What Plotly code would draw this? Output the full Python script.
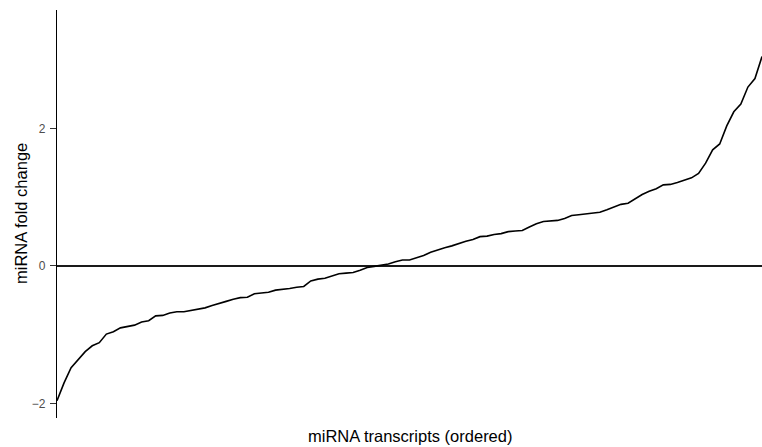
import plotly.graph_objects as go

# Fold change of each miRNA transcript, sorted from lowest to highest
fold_change = [
    -1.96, -1.70, -1.48, -1.37, -1.245, -1.16, -1.115, -0.99, -0.955, -0.90,
    -0.877, -0.86, -0.815, -0.797, -0.726, -0.719, -0.685, -0.665, -0.665, -0.647,
    -0.625, -0.609, -0.576, -0.551, -0.515, -0.483, -0.461, -0.455, -0.403, -0.393,
    -0.383, -0.352, -0.342, -0.327, -0.31, -0.298, -0.218, -0.192, -0.18, -0.142,
    -0.113, -0.105, -0.096, -0.061, -0.023, -0.006, 0.009, 0.029, 0.06, 0.087,
    0.087, 0.122, 0.151, 0.198, 0.236, 0.263, 0.292, 0.329, 0.358, 0.384,
    0.426, 0.433, 0.458, 0.47, 0.499, 0.508, 0.516, 0.565, 0.614, 0.646,
    0.652, 0.662, 0.691, 0.733, 0.745, 0.756, 0.768, 0.781, 0.817, 0.861,
    0.895, 0.912, 0.972, 1.039, 1.085, 1.123, 1.178, 1.185, 1.212, 1.248,
    1.281, 1.344, 1.494, 1.687, 1.773, 2.036, 2.24, 2.353, 2.6, 2.724,
    3.044,
]
rank = list(range(1, len(fold_change) + 1))

y_ticks = [-2, 0, 2]
y_tick_labels = ["\u22122", "0", "2"]

FONT = "Liberation Sans, Arial, sans-serif"

fig = go.Figure()
fig.add_trace(go.Scatter(
    x=rank, y=fold_change, mode="lines",
    line=dict(color="#000000", width=1.6),
    hoverinfo="skip", showlegend=False,
))

# Reference line at zero
fig.add_shape(type="line", xref="paper", yref="y", x0=0, x1=1, y0=0, y1=0,
              line=dict(color="#1a1a1a", width=1.9), layer="below")

fig.update_layout(
    width=762, height=447,
    margin=dict(l=57, r=0, t=10, b=29),
    paper_bgcolor="white", plot_bgcolor="white",
    font=dict(family=FONT),
    xaxis=dict(
        range=[1, len(fold_change)], showgrid=False, zeroline=False,
        showticklabels=False, ticks="", showline=False, fixedrange=True,
    ),
    yaxis=dict(
        range=[-2.21, 3.72], showgrid=False, zeroline=False,
        tickvals=y_ticks, ticktext=y_tick_labels,
        ticks="outside", ticklen=6, tickwidth=1, tickcolor="#333333",
        ticklabelstandoff=2,
        tickfont=dict(size=12, color="#4d4d4d", family=FONT),
        showline=True, linecolor="#000000", linewidth=1.3, fixedrange=True,
    ),
    annotations=[
        dict(text="miRNA transcripts (ordered)", xref="paper", yref="paper",
             x=0.5, y=0, yshift=-18, xanchor="center", yanchor="middle",
             showarrow=False, font=dict(size=16.5, color="#000000", family=FONT)),
        dict(text="miRNA fold change", xref="paper", yref="paper",
             x=0, y=0.5, xshift=-36, xanchor="center", yanchor="middle",
             textangle=-90, showarrow=False,
             font=dict(size=16.5, color="#000000", family=FONT)),
    ],
)

fig.write_html("out.html")
